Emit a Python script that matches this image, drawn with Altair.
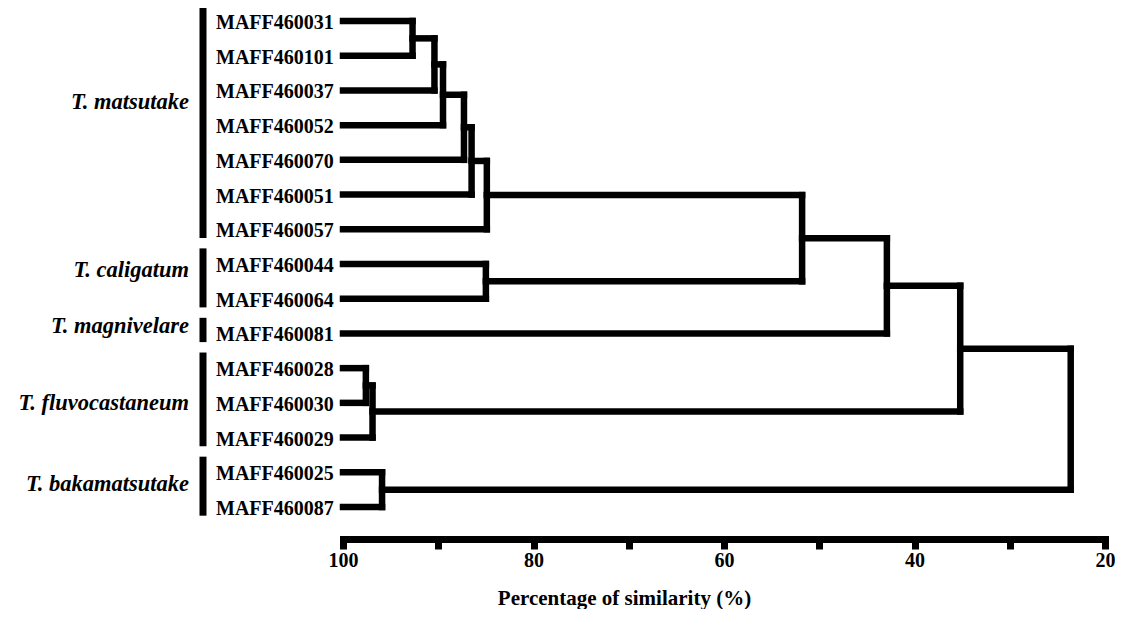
import altair as alt
import pandas as pd

# ---------------- data ----------------
leaf_names = ["MAFF460031", "MAFF460101", "MAFF460037", "MAFF460052", "MAFF460070",
              "MAFF460051", "MAFF460057", "MAFF460044", "MAFF460064", "MAFF460081",
              "MAFF460028", "MAFF460030", "MAFF460029", "MAFF460025", "MAFF460087"]

species_names = ["T. matsutake", "T. caligatum", "T. magnivelare",
                 "T. fluvocastaneum", "T. bakamatsutake"]
species_counts = [7, 2, 1, 3, 2]

# linkage: node ids 0..14 are leaves, new clusters get ids 15, 16, ...
merge_a = [0, 15, 16, 17, 18, 19, 7, 20, 22, 10, 24, 23, 13, 26]
merge_b = [1, 2, 3, 4, 5, 6, 8, 21, 9, 11, 12, 25, 14, 27]
merge_h = [92.7, 90.4, 89.5, 87.3, 86.5, 84.9, 85.0, 51.8, 42.9, 97.6, 96.9, 35.2, 95.9, 23.6]

axis_ticks = [100, 90, 80, 70, 60, 50, 40, 30, 20]

# ---------------- layout constants ----------------
FONT = "Liberation Serif"
LEAF_X = 100.0
species_label_shift = [-0.46, -0.14, 0.0, 0.2, 0.03]  # row units relative to group centre

# ---------------- build dendrogram segments ----------------
n = len(leaf_names)
node_y = {i: float(i) for i in range(n)}
node_x = {i: LEAF_X for i in range(n)}
segs = []
for k, (a, b, h) in enumerate(zip(merge_a, merge_b, merge_h)):
    nid = n + k
    for c in (a, b):
        segs.append({"x": node_x[c], "x2": h, "y": node_y[c], "y2": node_y[c]})
    segs.append({"x": h, "x2": h, "y": node_y[a], "y2": node_y[b]})
    node_y[nid] = (node_y[a] + node_y[b]) / 2
    node_x[nid] = h
seg_df = pd.DataFrame(segs)

leaf_df = pd.DataFrame({"name": leaf_names, "row": list(range(n))})

grp = []
start = 0
for s, c, sh in zip(species_names, species_counts, species_label_shift):
    first, last = start, start + c - 1
    grp.append({"species": s, "top": first - 0.45, "bottom": last + 0.25,
                "label_row": (first + last) / 2 + sh})
    start += c
grp_df = pd.DataFrame(grp)

# ---------------- scales ----------------
xscale = alt.Scale(domain=[100, 20], nice=False, zero=False)
yscale = alt.Scale(domain=[-0.3745, 14.864], reverse=True, nice=False, zero=False)

xaxis = alt.Axis(
    values=axis_ticks,
    labelExpr="datum.value % 20 == 0 ? datum.label : ''",
    grid=False,
    domainColor="black", domainWidth=7, domainCap="square",
    tickColor="black", tickWidth=7, tickSize=10,
    labelFont=FONT, labelFontSize=20, labelFontWeight="bold", labelColor="black",
    labelPadding=1, labelFlush=False, labelOverlap=False,
    offset=2,
    title="Percentage of similarity (%)",
    titleFont=FONT, titleFontSize=21, titleFontWeight="bold", titleColor="black",
    titleX=281, titleY=65, titleBaseline="alphabetic",
)

tree = alt.Chart(seg_df).mark_rule(color="black", strokeWidth=6.5, strokeCap="square").encode(
    x=alt.X("x:Q", scale=xscale, axis=xaxis),
    x2="x2:Q",
    y=alt.Y("y:Q", scale=yscale, axis=None),
    y2="y2:Q",
)

leaf_text = alt.Chart(leaf_df).mark_text(
    font=FONT, fontSize=20, fontWeight="bold", align="left", baseline="alphabetic",
    dy=8, color="black"
).encode(
    x=alt.value(-127),
    y=alt.Y("row:Q", scale=yscale, axis=None),
    text="name:N",
)

bars = alt.Chart(grp_df).mark_rule(color="black", strokeWidth=7).encode(
    x=alt.value(-140),
    y=alt.Y("top:Q", scale=yscale, axis=None),
    y2="bottom:Q",
)

species_text = alt.Chart(grp_df).mark_text(
    font=FONT, fontSize=22.5, fontWeight="bold", fontStyle="italic",
    align="right", baseline="alphabetic", color="black"
).encode(
    x=alt.value(-154),
    y=alt.Y("label_row:Q", scale=yscale, axis=None),
    text="species:N",
)

chart = alt.layer(tree, bars, leaf_text, species_text).properties(
    width=762, height=529,
    autosize=alt.AutoSizeParams(type="none"),
    padding={"left": 335, "top": 0, "right": 10, "bottom": 72},
    background="white",
).configure_view(stroke=None)

chart.save("out.html", embed_options={"renderer": "svg", "actions": False})
